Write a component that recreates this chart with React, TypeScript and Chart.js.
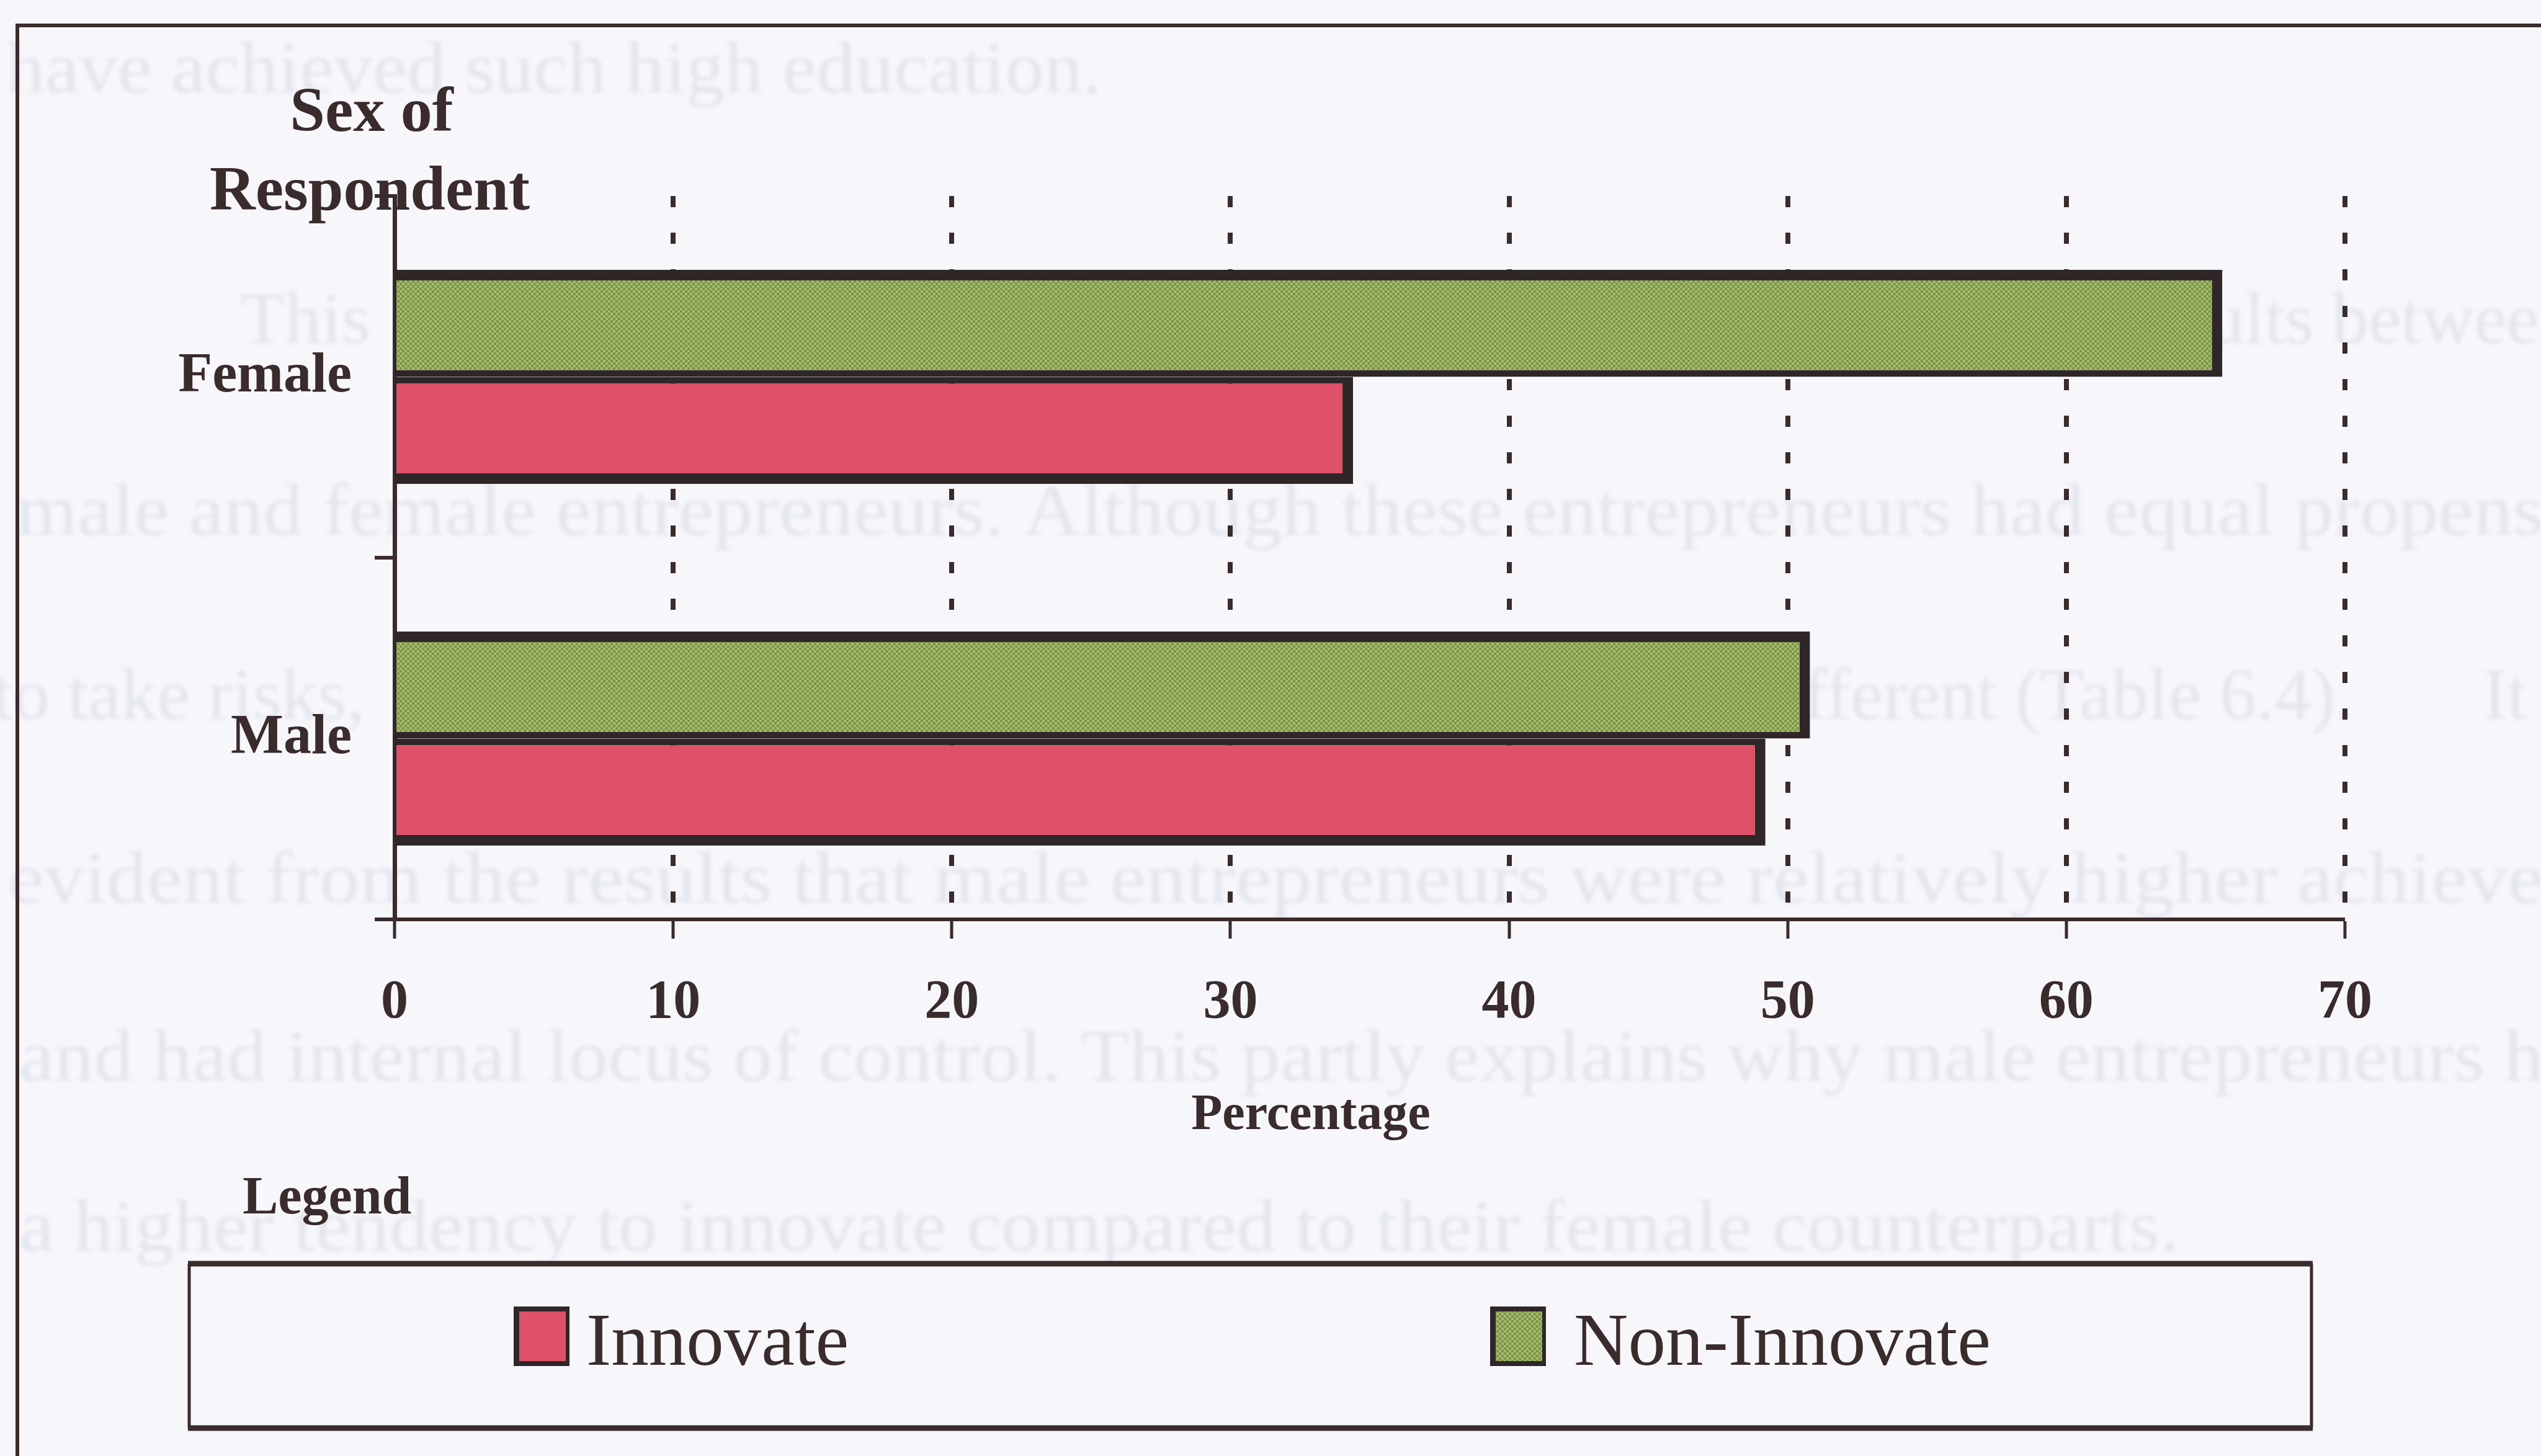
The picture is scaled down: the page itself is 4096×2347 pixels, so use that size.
import React, { useEffect, useRef } from "react";
import { Chart, registerables } from "chart.js";

Chart.register(...registerables);

// ---- data ----
const categories = ["Female", "Male"];
const nonInnovateLabel = "Non-Innovate";
const innovateLabel = "Innovate";
const nonInnovateValues = [65.6, 50.8];
const innovateValues = [34.4, 49.2];
const xTickValues = [0, 10, 20, 30, 40, 50, 60, 70];
const yTitleLines = ["Sex of", "Respondent"];
const xTitleText = "Percentage";
const legendTitleText = "Legend";
const legendOrder = [innovateLabel, nonInnovateLabel];

// faint printed page text sitting behind the figure
const pageTextLines = [
  "have achieved such high education.",
  "This",
  "results between",
  "male and female entrepreneurs. Although these entrepreneurs had equal propensity",
  "to take risks,",
  "different (Table 6.4).",
  "It",
  "evident from the results that male entrepreneurs were relatively higher achievers",
  "and had internal locus of control. This partly explains why male entrepreneurs had",
  "a higher tendency to innovate compared to their female counterparts.",
];

// ---- look ----
const W = 4096;
const H = 2347;
const FONT = '"Liberation Serif", "Times New Roman", serif';
const PAGE_BG = "#f7f7fb";
const INK = "#3a2b2c";
const BAR_EDGE = "#2f2628";
const RED = "#de5169";
const GHOST = "#e3e5ed";

function makeGreenPattern(): CanvasPattern | string {
  const tile = document.createElement("canvas");
  tile.width = 8;
  tile.height = 8;
  const t = tile.getContext("2d");
  if (!t) return "#90a75c";
  t.fillStyle = "#7a954a";
  t.fillRect(0, 0, 8, 8);
  t.fillStyle = "#a6ba6b";
  t.fillRect(0, 0, 4, 4);
  t.fillRect(4, 4, 4, 4);
  const p = t.createPattern(tile, "repeat");
  return p || "#90a75c";
}

function fitText(
  ctx: CanvasRenderingContext2D,
  text: string,
  prefix: string,
  x0: number,
  x1: number,
  y: number
) {
  const natural = ctx.measureText(prefix).width;
  const sx = natural > 0 ? (x1 - x0) / natural : 1;
  ctx.save();
  ctx.translate(x0, y);
  ctx.scale(sx, 1);
  ctx.fillText(text, 0, 0);
  ctx.restore();
}

const pagePlugin = {
  id: "pageDecor",
  beforeDraw(chart: any) {
    const ctx: CanvasRenderingContext2D = chart.ctx;
    ctx.save();
    ctx.fillStyle = PAGE_BG;
    ctx.fillRect(0, 0, chart.width, chart.height);

    // ghost text behind the figure
    ctx.filter = "blur(3px)";
    ctx.fillStyle = GHOST;
    ctx.font = `118px ${FONT}`;
    ctx.textBaseline = "middle";
    ctx.textAlign = "left";
    const L = pageTextLines;
    fitText(ctx, L[0], L[0], 10, 1776, 118);
    ctx.fillText(L[1], 387, 522);
    ctx.fillText(L[2], 3618 - ctx.measureText("resu").width, 522);
    fitText(ctx, L[3], "male and female entrepreneurs. Although these entrepreneurs had equal propens", 26, 4100, 831);
    ctx.fillText(L[4], -12, 1128);
    ctx.fillText(L[5], 2946 - ctx.measureText("dif").width, 1128);
    ctx.fillText(L[6], 4002, 1128);
    fitText(ctx, L[7], "evident from the results that male entrepreneurs were relatively higher achieve", 13, 4100, 1424);
    fitText(ctx, L[8], "and had internal locus of control. This partly explains why male entrepreneurs h", 31, 4100, 1711);
    fitText(ctx, L[9], L[9], 31, 3513, 1985);
    ctx.filter = "none";

    // outer frame (top and left edges visible)
    ctx.strokeStyle = INK;
    ctx.lineWidth = 6;
    ctx.beginPath();
    ctx.moveTo(28, chart.height + 10);
    ctx.lineTo(28, 41);
    ctx.lineTo(chart.width + 10, 41);
    ctx.stroke();
    ctx.restore();
  },
  afterDraw(chart: any) {
    const ctx: CanvasRenderingContext2D = chart.ctx;
    ctx.save();
    ctx.fillStyle = INK;
    ctx.textBaseline = "alphabetic";

    // category axis title
    ctx.font = `bold 102px ${FONT}`;
    ctx.textAlign = "center";
    ctx.fillText(yTitleLines[0], 599, 211);
    ctx.fillText(yTitleLines[1], 596, 338);

    // value axis title
    ctx.font = `bold 82px ${FONT}`;
    ctx.fillText(xTitleText, 2113, 1820);

    // legend heading
    ctx.textAlign = "left";
    ctx.font = `bold 86px ${FONT}`;
    ctx.fillText(legendTitleText, 391, 1956);

    // legend frame
    const bx0 = 305, bx1 = 3726, by0 = 2037, by1 = 2302;
    ctx.fillStyle = PAGE_BG;
    ctx.fillRect(bx0, by0, bx1 - bx0, by1 - by0);
    ctx.strokeStyle = INK;
    ctx.lineWidth = 9;
    ctx.beginPath();
    ctx.moveTo(bx0 - 2, by0);
    ctx.lineTo(bx1 + 2, by0);
    ctx.moveTo(bx0 - 2, by1);
    ctx.lineTo(bx1 + 2, by1);
    ctx.stroke();
    ctx.lineWidth = 5;
    ctx.beginPath();
    ctx.moveTo(bx0, by0);
    ctx.lineTo(bx0, by1);
    ctx.moveTo(bx1, by0);
    ctx.lineTo(bx1, by1);
    ctx.stroke();

    // legend entries
    const ds = chart.data.datasets;
    const swatchX = [828, 2402];
    const textX = [945, 2537];
    ctx.font = `121px ${FONT}`;
    legendOrder.forEach((name, i) => {
      const d = ds.find((q: any) => q.label === name);
      if (!d) return;
      const sx = swatchX[i];
      const sy = 2106;
      const sw = 90;
      const sh = 96;
      ctx.fillStyle = BAR_EDGE;
      ctx.fillRect(sx, sy, sw, sh);
      ctx.fillStyle = d.backgroundColor;
      ctx.fillRect(sx + 9, sy + 8, sw - 15, sh - 16);
      ctx.fillStyle = INK;
      ctx.fillText(name, textX[i], 2200);
    });
    ctx.restore();
  },
};

export default function App() {
  const canvasRef = useRef<HTMLCanvasElement | null>(null);

  useEffect(() => {
    document.body.style.margin = "0";
    document.body.style.overflow = "hidden";
    document.body.style.background = PAGE_BG;
    const canvas = canvasRef.current;
    if (!canvas) return;
    const green = makeGreenPattern();

    const chart = new Chart(canvas, {
      type: "bar",
      data: {
        labels: categories,
        datasets: [
          {
            label: nonInnovateLabel,
            data: nonInnovateValues,
            backgroundColor: green as any,
            borderColor: BAR_EDGE,
            borderWidth: { top: 17, right: 17, bottom: 11, left: 3 } as any,
            borderSkipped: false,
            categoryPercentage: 0.592,
            barPercentage: 1,
          },
          {
            label: innovateLabel,
            data: innovateValues,
            backgroundColor: RED,
            borderColor: BAR_EDGE,
            borderWidth: { top: 11, right: 17, bottom: 17, left: 3 } as any,
            borderSkipped: false,
            categoryPercentage: 0.592,
            barPercentage: 1,
          },
        ],
      },
      options: {
        indexAxis: "y",
        animation: false,
        responsive: false,
        maintainAspectRatio: false,
        devicePixelRatio: 1,
        layout: { padding: { left: 236, right: 316, top: 316, bottom: 605 } },
        plugins: {
          legend: { display: false },
          tooltip: { enabled: false },
          title: { display: false },
        },
        scales: {
          x: {
            type: "linear",
            position: "bottom",
            min: 0,
            max: 70,
            afterFit: (s: any) => {
              s.height = 260;
            },
            afterBuildTicks: (s: any) => {
              s.ticks = xTickValues.map((v) => ({ value: v }));
            },
            ticks: {
              autoSkip: false,
              maxRotation: 0,
              minRotation: 0,
              padding: 51,
              color: INK,
              font: { family: FONT, size: 88, weight: "bold" },
            },
            grid: {
              color: INK,
              lineWidth: (c: any) => (c.tick && c.tick.value === 0 ? 0 : 8),
              drawOnChartArea: true,
              drawTicks: true,
              tickLength: 31,
              tickWidth: 5,
              tickColor: INK,
              tickBorderDash: [],
            },
            border: { display: true, color: INK, width: 6, dash: [18, 41] },
          },
          y: {
            type: "category",
            position: "left",
            offset: true,
            afterFit: (s: any) => {
              s.width = 400;
            },
            ticks: {
              padding: 37,
              color: INK,
              font: { family: FONT, size: 90, weight: "bold" },
            },
            grid: {
              offset: true,
              drawOnChartArea: false,
              drawTicks: true,
              tickLength: 32,
              tickWidth: 6,
              tickColor: INK,
              color: INK,
              lineWidth: 6,
            },
            border: { display: true, color: INK, width: 7 },
          },
        },
      } as any,
      plugins: [pagePlugin as any],
    });

    return () => {
      chart.destroy();
    };
  }, []);

  return (
    <div style={{ width: W, height: H, position: "relative", overflow: "hidden" }}>
      <canvas ref={canvasRef} width={W} height={H} style={{ display: "block", width: W, height: H }} />
    </div>
  );
}
